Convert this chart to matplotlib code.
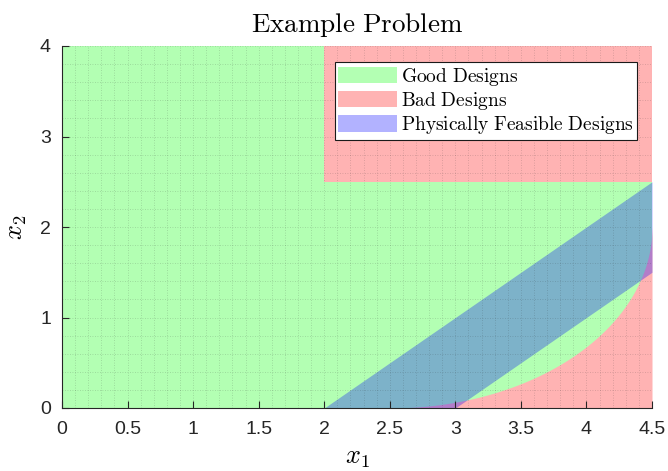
import numpy as np
import matplotlib
matplotlib.use("Agg")
import matplotlib.pyplot as plt
from matplotlib.patches import Patch
from matplotlib.ticker import MultipleLocator

plt.rcParams['mathtext.fontset'] = 'cm'
plt.rcParams['font.family'] = ['Liberation Sans', 'DejaVu Sans']

# design space limits
x_lim = [0, 4.5]
y_lim = [0, 4]

# bad designs: upper box plus the region under the circular arc
bad_box_x = [2, 4.5]
bad_box_y = [2.5, 4]
arc_center = [2.5, 2]
arc_radius = 2

# physically feasible band: x - 3 <= y <= x - 2
band_offsets = [3, 2]

labels = ['Good Designs', 'Bad Designs', 'Physically Feasible Designs']

green = (0.7, 1.0, 0.7)
red = (1.0, 0.7, 0.7)
blue = (0.0, 0.0, 1.0)

fig = plt.figure(figsize=(6.68, 4.71), dpi=100)
ax = fig.add_axes([62 / 668, 1 - 408 / 471, 590 / 668, 362 / 471])

# good designs fill the whole space
ax.fill_between(x_lim, y_lim[0], y_lim[1], color=green, lw=0)

# bad designs
ax.fill_between(bad_box_x, bad_box_y[0], bad_box_y[1], color=red, lw=0)
xa = np.linspace(arc_center[0], arc_center[0] + arc_radius, 400)
ya = arc_center[1] - np.sqrt(np.clip(arc_radius**2 - (xa - arc_center[0])**2, 0, None))
ax.fill_between(xa, 0, ya, color=red, lw=0)

# feasible band
xb = np.linspace(x_lim[0], x_lim[1], 400)
lo = np.clip(xb - band_offsets[0], y_lim[0], y_lim[1])
hi = np.clip(xb - band_offsets[1], y_lim[0], y_lim[1])
ax.fill_between(xb, lo, hi, where=hi > lo, color=blue, alpha=0.3, lw=0)

ax.set_xlim(x_lim)
ax.set_ylim(y_lim)
ax.xaxis.set_major_locator(MultipleLocator(0.5))
ax.yaxis.set_major_locator(MultipleLocator(1))
ax.xaxis.set_minor_locator(MultipleLocator(0.1))
ax.yaxis.set_minor_locator(MultipleLocator(0.2))
ax.xaxis.set_major_formatter(plt.FuncFormatter(lambda v, p: f'{v:g}'))

ax.tick_params(which='major', direction='in', length=5, width=0.8,
               colors='0.15', labelsize=14, top=False, right=False)
ax.tick_params(axis='x', which='major', pad=9)
ax.tick_params(axis='y', which='major', pad=8)
ax.tick_params(which='minor', length=0)
ax.grid(which='both', linestyle=(0, (1, 2)), color='0.15', alpha=0.22, linewidth=0.6)
ax.set_axisbelow(False)

for side in ['top', 'right']:
    ax.spines[side].set_visible(False)
for side in ['left', 'bottom']:
    ax.spines[side].set_color('0.15')
    ax.spines[side].set_linewidth(0.8)

ax.set_title(r'$\mathrm{Example\ Problem}$', fontsize=19.5, pad=10)
ax.set_xlabel(r'$x_1$', fontsize=19, labelpad=6)
ax.set_ylabel(r'$x_2$', fontsize=19, labelpad=8)

handles = [Patch(facecolor=green, edgecolor='none'),
           Patch(facecolor=red, edgecolor='none'),
           Patch(facecolor=blue, alpha=0.3, edgecolor='none')]
leg = ax.legend(handles, [r'$\mathrm{' + s.replace(' ', r'\ ') + '}$' for s in labels],
                loc='upper right', bbox_to_anchor=(575 / 590, 346 / 362),
                borderaxespad=0, fancybox=False, framealpha=1, edgecolor='0.1',
                fontsize=14, handlelength=3.0, handleheight=0.9,
                handletextpad=0.2, labelspacing=0.12, borderpad=0.18)
leg.get_frame().set_linewidth(0.8)

fig.savefig('out.png', dpi=100)
